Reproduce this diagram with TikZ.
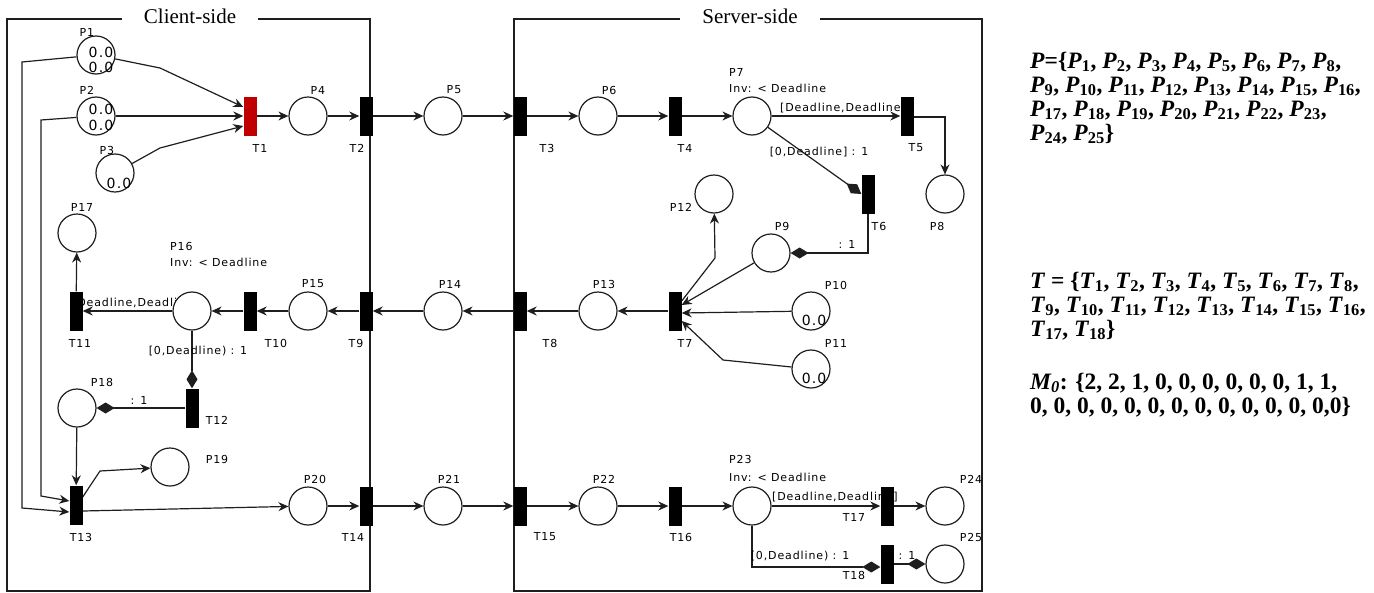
\documentclass[tikz,border=0pt]{standalone}
\usepackage{fontspec}
\setmainfont{Liberation Serif}
\newfontfamily\lblfont[LetterSpace=8]{DejaVu Sans}
\usetikzlibrary{arrows.meta}
\pgfdeclarelayer{bg}
\pgfdeclarelayer{mid}
\pgfsetlayers{bg,mid,main}
\newcommand\Pn[1]{\textit{P}\textsubscript{#1}}
\newcommand\Tn[1]{\textit{T}\textsubscript{#1}}
\definecolor{tred}{RGB}{192,0,0}
\definecolor{ink}{RGB}{30,30,30}
\begin{document}
\begin{tikzpicture}[x=1pt,y=-1pt,
  place/.style={circle,draw=ink,line width=1.2pt,fill=white,minimum size=38pt,inner sep=0pt},
  trans/.style={rectangle,fill=black,minimum width=13pt,minimum height=39pt,inner sep=0pt},
  lbl/.style={font=\lblfont\fontsize{11}{13}\selectfont,inner sep=0pt},
  tok/.style={font=\lblfont\fontsize{14}{15}\selectfont,inner sep=0pt},
  arc/.style={draw=ink,line width=1.2pt,-{Stealth[length=10pt,width=9pt]}},
  tarc/.style={draw=ink,line width=1.2pt,-{Diamond[length=18pt,width=11pt]}},
  box/.style={draw=ink,line width=1.3pt},
  title/.style={font=\fontsize{21}{24}\selectfont,fill=white,inner xsep=22pt,inner ysep=2pt},
  side/.style={font=\bfseries\fontsize{23.5}{24}\selectfont,align=left,anchor=base west,inner sep=0pt}
]
\useasboundingbox (0,0) rectangle (1374,592);

% ---------- places ----------
\node[place] (P1) at (96,55) {};
\node[place] (P2) at (96,116) {};
\node[place] (P3) at (115,173) {};
\node[place] (P4) at (308,116) {};
\node[place] (P5) at (443,116) {};
\node[place] (P6) at (598,116) {};
\node[place] (P7) at (752,116) {};
\node[place] (P8) at (945,194) {};
\node[place] (P9) at (771,253) {};
\node[place] (P10) at (811,311) {};
\node[place] (P11) at (811,369) {};
\node[place] (P12) at (714,194) {};
\node[place] (P13) at (598,311) {};
\node[place] (P14) at (443,311) {};
\node[place] (P15) at (308,311) {};
\node[place] (P16) at (192,311) {};
\node[place] (P17) at (77,233) {};
\node[place] (P18) at (77,408) {};
\node[place] (P19) at (170,467) {};
\node[place] (P20) at (308,506) {};
\node[place] (P21) at (443,506) {};
\node[place] (P22) at (598,506) {};
\node[place] (P23) at (752,506) {};
\node[place] (P24) at (945,506) {};
\node[place] (P25) at (945,564) {};

% ---------- transitions ----------
\node[trans,fill=tred] (T1) at (250,116) {};
\node[trans] (T2) at (366,116) {};
\node[trans] (T3) at (520,116) {};
\node[trans] (T4) at (675,116) {};
\node[trans] (T5) at (907,116) {};
\node[trans] (T6) at (868,194) {};
\node[trans] (T7) at (675,311) {};
\node[trans] (T8) at (520,311) {};
\node[trans] (T9) at (366,311) {};
\node[trans] (T10) at (250,311) {};
\node[trans] (T11) at (76,311) {};
\node[trans] (T12) at (192,408) {};
\node[trans] (T13) at (76,505) {};
\node[trans] (T14) at (366,506) {};
\node[trans] (T15) at (520,506) {};
\node[trans] (T16) at (675,506) {};
\node[trans] (T17) at (887,506) {};
\node[trans] (T18) at (887,564) {};

% ---------- tokens ----------
\node[tok] (k1a) at (101,52) {0.0};
\node[tok] (k1b) at (101,67) {0.0};
\node[tok] (k2a) at (101,109) {0.0};
\node[tok] (k2b) at (101,125) {0.0};
\node[tok] (k3) at (119,183) {0.0};
\node[tok] (k10) at (814,320) {0.0};
\node[tok] (k11) at (814,378) {0.0};

% ---------- node labels ----------
\node[lbl] (lP1) at (87,32) {P1};
\node[lbl] (lP2) at (87,90) {P2};
\node[lbl] (lP3) at (107,150) {P3};
\node[lbl] (lP4) at (318,90) {P4};
\node[lbl] (lP5) at (454,90) {P5};
\node[lbl] (lP6) at (609,90) {P6};
\node[lbl,anchor=west] (lP7) at (729,72) {P7};
\node[lbl,anchor=west] (iP7) at (729,88) {Inv: < Deadline};
\node[lbl] (lP8) at (937,226) {P8};
\node[lbl] (lP9) at (782,226) {P9};
\node[lbl] (lP10) at (836,285) {P10};
\node[lbl] (lP11) at (836,343) {P11};
\node[lbl] (lP12) at (681,207) {P12};
\node[lbl] (lP13) at (604,284) {P13};
\node[lbl] (lP14) at (450,284) {P14};
\node[lbl] (lP15) at (313,284) {P15};
\node[lbl,anchor=west] (lP16) at (170,246) {P16};
\node[lbl,anchor=west] (iP16) at (170,262) {Inv: < Deadline};
\node[lbl] (lP17) at (82,207) {P17};
\node[lbl] (lP18) at (102,382) {P18};
\node[lbl] (lP19) at (217,459) {P19};
\node[lbl] (lP20) at (315,479) {P20};
\node[lbl] (lP21) at (449,479) {P21};
\node[lbl] (lP22) at (604,479) {P22};
\node[lbl,anchor=west] (lP23) at (729,459) {P23};
\node[lbl,anchor=west] (iP23) at (729,477) {Inv: < Deadline};
\node[lbl] (lP24) at (971,479) {P24};
\node[lbl] (lP25) at (971,537) {P25};
\node[lbl] (lT1) at (260,148) {T1};
\node[lbl] (lT2) at (357,148) {T2};
\node[lbl] (lT3) at (547,148) {T3};
\node[lbl] (lT4) at (685,148) {T4};
\node[lbl] (lT5) at (916,148) {T5};
\node[lbl] (lT6) at (879,226) {T6};
\node[lbl] (lT7) at (685,343) {T7};
\node[lbl] (lT8) at (550,343) {T8};
\node[lbl] (lT9) at (356,343) {T9};
\node[lbl] (lT10) at (276,343) {T10};
\node[lbl] (lT11) at (80,343) {T11};
\node[lbl] (lT12) at (217,420) {T12};
\node[lbl] (lT13) at (81,537) {T13};
\node[lbl] (lT14) at (353,537) {T14};
\node[lbl] (lT15) at (545,537) {T15};
\node[lbl] (lT16) at (681,537) {T16};
\node[lbl] (lT17) at (854,517) {T17};
\node[lbl] (lT18) at (854,575) {T18};

% ---------- side texts (anchor = baseline of last line) ----------
\node[side] (Pset) at (1030,140) {\textit{P}=\{\Pn{1}, \Pn{2}, \Pn{3}, \Pn{4}, \Pn{5}, \Pn{6}, \Pn{7}, \Pn{8},\\
\Pn{9}, \Pn{10}, \Pn{11}, \Pn{12}, \Pn{13}, \Pn{14}, \Pn{15}, \Pn{16},\\
\Pn{17}, \Pn{18}, \Pn{19}, \Pn{20}, \Pn{21}, \Pn{22}, \Pn{23},\\
\Pn{24}, \Pn{25}\}};
\node[side] (Tset) at (1030,336) {\textit{T} = \{\Tn{1}, \Tn{2}, \Tn{3}, \Tn{4}, \Tn{5}, \Tn{6}, \Tn{7}, \Tn{8},\\
\Tn{9}, \Tn{10}, \Tn{11}, \Tn{12}, \Tn{13}, \Tn{14}, \Tn{15}, \Tn{16},\\
\Tn{17}, \Tn{18}\}};
\node[side] (Mset) at (1030,413) {\textit{M\textsubscript{0}}: \{2, 2, 1, 0, 0, 0, 0, 0, 0, 1, 1,\\
0, 0, 0, 0, 0, 0, 0, 0, 0, 0, 0, 0, 0,0\}};

% ---------- boxes ----------
\begin{pgfonlayer}{bg}
\draw[box] (7,19) rectangle (370,591);
\draw[box] (514,19) rectangle (982,591);
\node[title] (client) at (190,16) {Client-side};
\node[title] (server) at (750,16) {Server-side};
\end{pgfonlayer}

% ---------- arcs ----------
\begin{pgfonlayer}{mid}
\coordinate (b1) at (160,68);
\coordinate (b3) at (160,148);
\coordinate (b5) at (945,117);
\coordinate (b6) at (868,253);
\coordinate (b12) at (715,258);
\coordinate (b11) at (723,360);
\coordinate (b19) at (100,471);
\coordinate (c1) at (22,62);
\coordinate (c1b) at (22,508);
\coordinate (c2) at (41,120);
\coordinate (c2b) at (41,496);
\coordinate (b23) at (752,567);

\draw[arc] (P1) -- (b1) -- ([yshift=9pt]T1.west);
\draw[arc] (P2) -- (T1);
\draw[arc] (P3) -- (b3) -- ([yshift=-10pt]T1.west);
\draw[arc] (T1) -- (P4);
\draw[arc] (P4) -- (T2);
\draw[arc] (T2) -- (P5);
\draw[arc] (P5) -- (T3);
\draw[arc] (T3) -- (P6);
\draw[arc] (P6) -- (T4);
\draw[arc] (T4) -- (P7);
\draw[arc] (P7) -- (T5);
\draw[arc] ([yshift=-1pt]T5.east) -- (b5) -- (P8);
\draw[tarc] (P7) -- (T6.west);
\draw[tarc] (T6.south) -- (b6) -- (P9);
\draw[arc] ([yshift=10pt]T7.east) -- (b12) -- (P12);
\draw[arc] (P9) -- ([yshift=6pt]T7.east);
\draw[arc] (P10) -- ([yshift=-2pt]T7.east);
\draw[arc] (P11) -- (b11) -- ([yshift=-10pt]T7.east);
\draw[arc] (T7) -- (P13);
\draw[arc] (P13) -- (T8);
\draw[arc] (T8) -- (P14);
\draw[arc] (P14) -- (T9);
\draw[arc] (T9) -- (P15);
\draw[arc] (P15) -- (T10);
\draw[arc] (T10) -- (P16);
\draw[arc] (P16) -- (T11);
\draw[arc] (T11) -- (P17);
\draw[tarc] (P16) -- (T12);
\draw[tarc] (T12) -- (P18);
\draw[arc] (P18) -- (T13);
\draw[arc] ([yshift=8pt]T13.east) -- (b19) -- (P19);
\draw[arc] ([yshift=-6pt]T13.east) -- (P20);
\draw[arc] (P1) -- (c1) -- (c1b) -- ([yshift=-7pt]T13.west);
\draw[arc] (P2) -- (c2) -- (c2b) -- ([yshift=4pt]T13.west);
\draw[arc] (P20) -- (T14);
\draw[arc] (T14) -- (P21);
\draw[arc] (P21) -- (T15);
\draw[arc] (T15) -- (P22);
\draw[arc] (P22) -- (T16);
\draw[arc] (T16) -- (P23);
\draw[arc] (P23) -- (T17);
\draw[arc] (T17) -- (P24);
\draw[tarc] (P23.south) -- (b23) -- ([yshift=-3pt]T18.west);
\draw[tarc] (T18) -- (P25);

% arc labels
\node[lbl,anchor=west] (e1) at (780,108) {[Deadline,Deadline]};
\node[lbl] (e2) at (819,152) {[0,Deadline] : 1};
\node[lbl] (e3) at (847,244) {: 1};
\node[lbl,anchor=west] (e4) at (72,303) {[Deadline,Deadline]};
\node[lbl] (e5) at (198,351) {[0,Deadline) : 1};
\node[lbl] (e6) at (139,400) {: 1};
\node[lbl,anchor=west] (e7) at (772,497) {[Deadline,Deadline]};
\node[lbl] (e8) at (800,556) {[0,Deadline) : 1};
\node[lbl] (e9) at (907,555) {: 1};
\end{pgfonlayer}
\end{tikzpicture}
\end{document}
